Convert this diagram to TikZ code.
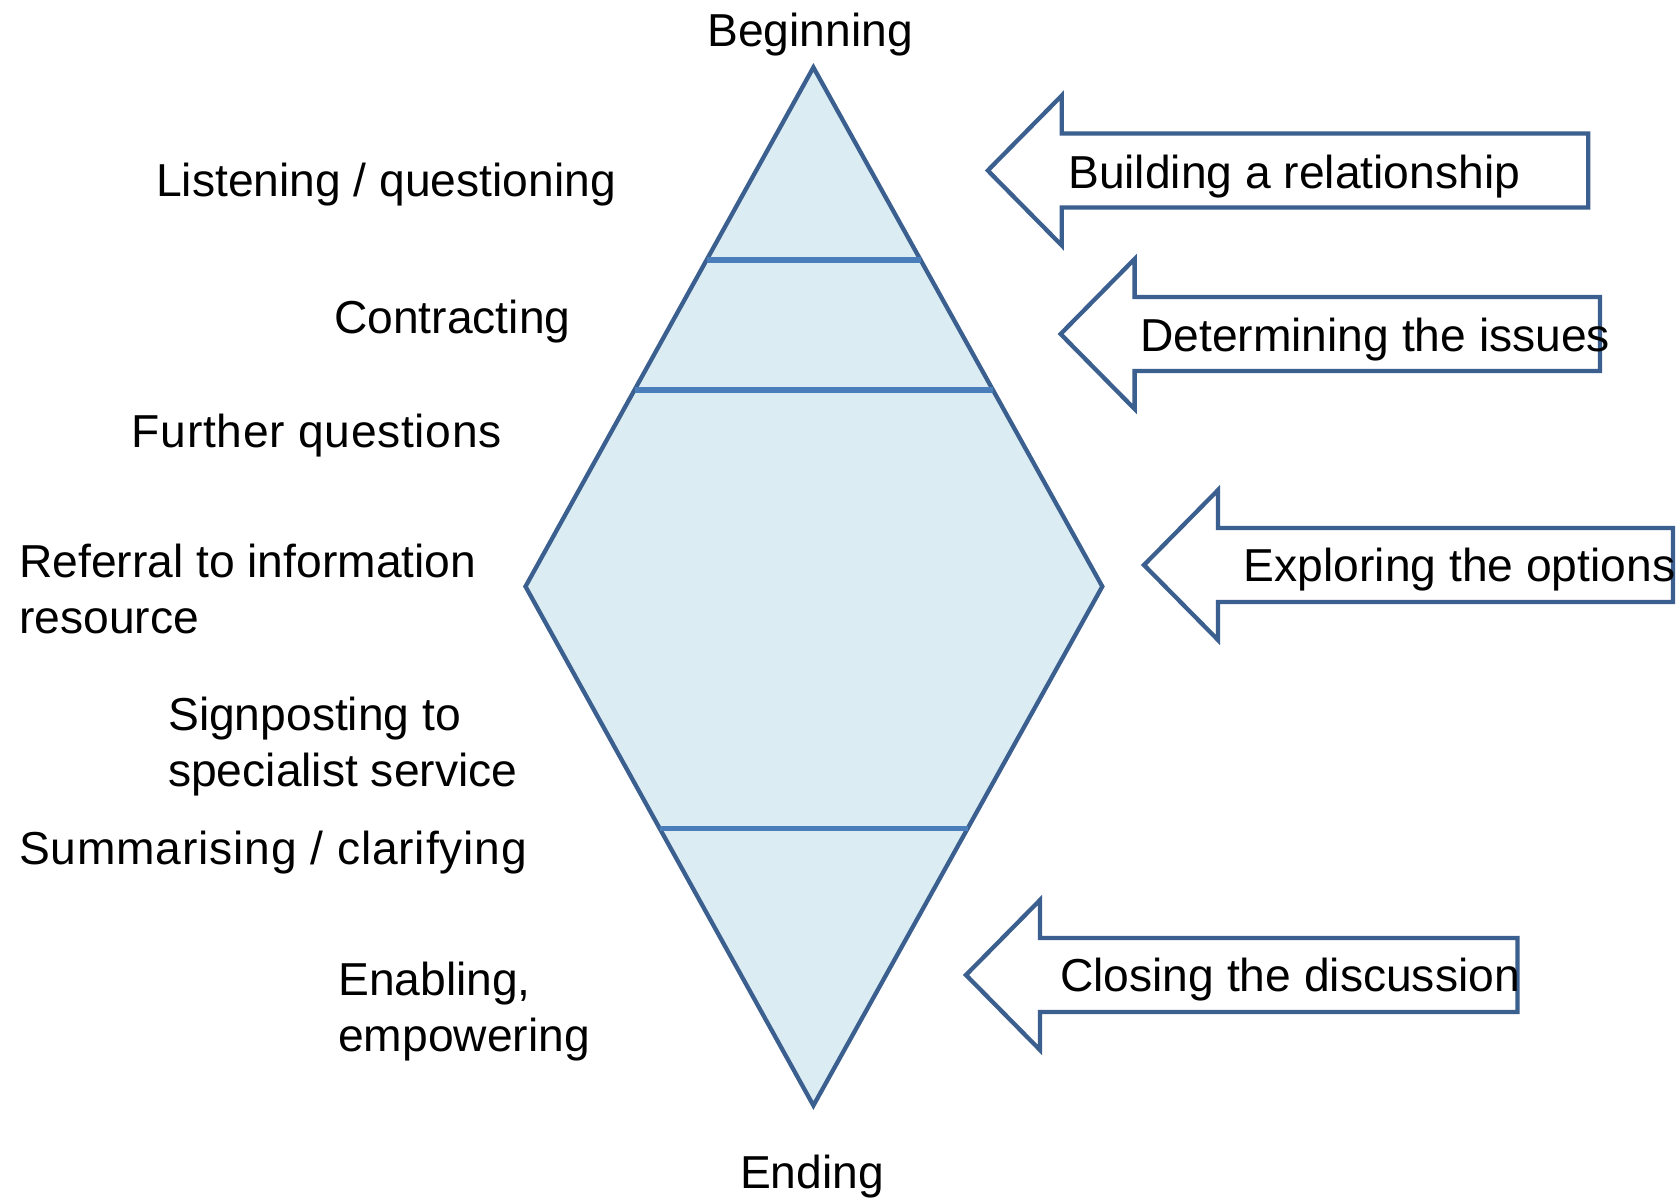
\documentclass[tikz,border=0pt]{standalone}
\usepackage{fontspec}
\setmainfont{Liberation Sans}
\usetikzlibrary{calc}
\definecolor{outline}{HTML}{3B5F8E}
\definecolor{panefill}{HTML}{DBEDF3}
\definecolor{divider}{HTML}{4A7EBB}
\tikzset{
  label/.style={anchor=base west, inner sep=0pt, align=left,
    font=\fontsize{46.2}{56}\selectfont},
  endlabel/.style={anchor=base, inner sep=0pt,
    font=\fontsize{46.2}{56}\selectfont},
  shapeline/.style={draw=outline, line width=4.3pt, line join=miter},
  divline/.style={draw=divider, line width=5.5pt},
  pics/callarrow/.style={code={
    \draw[shapeline, fill=white] (0,0) -- (74,-75) -- (74,-37) -- (#1,-37)
      -- (#1,37) -- (74,37) -- (74,75) -- cycle;}}
}
\begin{document}
\begin{tikzpicture}[x=1pt, y=-1pt]
\useasboundingbox (0,0) rectangle (1678,1198);

% the diamond
\coordinate (T) at (813.4,67.4);
\coordinate (L) at (525.5,586.5);
\coordinate (R) at (1102.3,586.5);
\coordinate (B) at (813.4,1105.5);
\path[shapeline, fill=panefill] (T) -- (R) -- (B) -- (L) -- cycle;

% stage dividers
\draw[divline] ($(T)!0.371!(L)$) -- ($(T)!0.371!(R)$);
\draw[divline] ($(T)!0.621!(L)$) -- ($(T)!0.621!(R)$);
\draw[divline] ($(L)!0.466!(B)$) -- ($(R)!0.466!(B)$);

\node[endlabel] (begin) at (810,46.7) {Beginning};
\node[endlabel] (end) at (812,1188) {Ending};

% skills on the left (multi-line labels are placed by their last baseline)
\node[label] (listen) at (156,197) {Listening / questioning};
\node[label] (contract) at (334,333) {Contracting};
\node[label] (further) at (131.7,447) {\addfontfeature{LetterSpace=1.5}Further questions};
\node[label] (referral) at (19,633.5) {Referral to information\\resource};
\node[label] (signpost) at (168,786.5) {Signposting to\\specialist service};
\node[label] (summary) at (19,864) {\addfontfeature{LetterSpace=1.8}Summarising / clarifying};
\node[label] (enable) at (338,1051) {Enabling,\\empowering};

% stage arrows on the right
\pic at (987.8,170.5) {callarrow=600.4};
\node[label] (build) at (1068,189) {Building a relationship};
\pic at (1060.6,334) {callarrow=539.4};
\node[label] (issues) at (1140,351) {Determining the issues};
\pic at (1144,565) {callarrow=529};
\node[label] (options) at (1243.6,581.7) {Exploring the options};
\pic at (966,975) {callarrow=551.5};
\node[label] (closing) at (1060,991.7) {Closing the discussion};
\end{tikzpicture}
\end{document}
